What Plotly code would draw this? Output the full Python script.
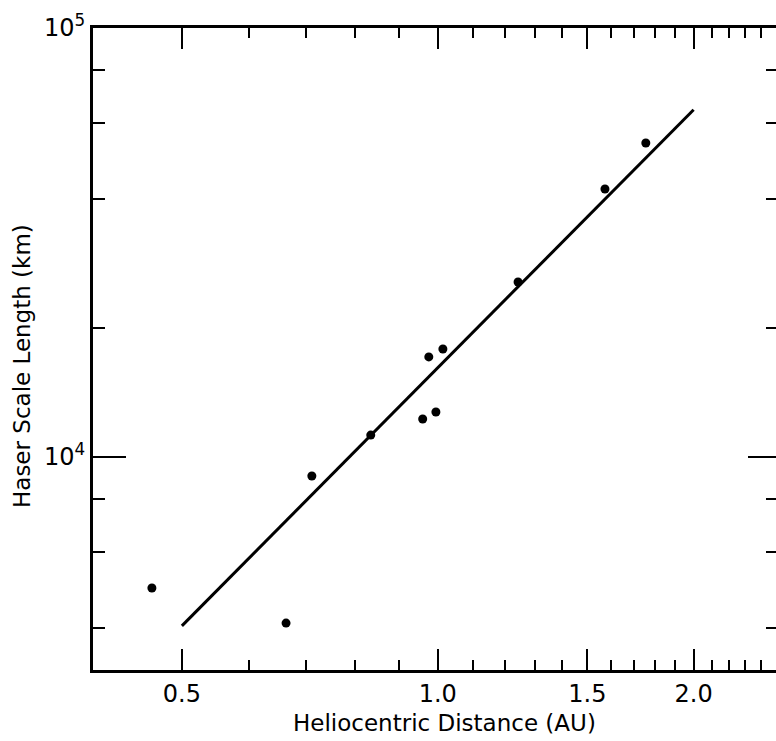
import math
import plotly.graph_objects as go

# Data
helio_dist_au = [0.461, 0.663, 0.711, 0.834, 0.960, 0.995, 0.976, 1.014, 1.243, 1.573, 1.757]
scale_length_km = [4950, 4100, 9030, 11250, 12260, 12730, 17110, 17850, 25580, 42140, 53950]

fit_x = [0.5, 2.0]
fit_y = [4040, 64500]

x_tickvals = [0.5, 1.0, 1.5, 2.0]
x_ticktext = ["0.5", "1.0", "1.5", "2.0"]
x_minor = [0.6, 0.7, 0.8, 0.9, 1.1, 1.2, 1.3, 1.4, 1.6, 1.7, 1.8, 1.9, 2.1, 2.2, 2.3, 2.4]

y_tickvals = [1e4, 1e5]
y_ticktext = ["10<sup>4</sup>", "10<sup>5</sup>"]
y_minor = [4e3, 6e3, 8e3, 2e4, 4e4, 6e4, 8e4]

x_range = [0.393, 2.5]
y_range = [3188, 1e5]

FONT = "DejaVu Sans"

fig = go.Figure()
fig.add_trace(go.Scatter(x=fit_x, y=fit_y, mode="lines",
                         line=dict(color="black", width=3),
                         showlegend=False, hoverinfo="skip"))
fig.add_trace(go.Scatter(x=helio_dist_au, y=scale_length_km, mode="markers",
                         marker=dict(color="black", size=9),
                         showlegend=False, hoverinfo="skip"))
# invisible trace to anchor the right-hand tick axis
fig.add_trace(go.Scatter(x=fit_x, y=fit_y, yaxis="y2", mode="lines",
                         line=dict(width=0, color="rgba(0,0,0,0)"),
                         showlegend=False, hoverinfo="skip"))

fig.update_layout(
    width=776, height=741,
    margin=dict(l=93, r=0, t=28, b=71),
    paper_bgcolor="white", plot_bgcolor="white",
    font=dict(family=FONT, color="black"),
    hovermode=False,
    xaxis=dict(
        type="log", range=[math.log10(x_range[0]), math.log10(x_range[1])],
        tickmode="array", tickvals=x_tickvals, ticktext=x_ticktext,
        ticks="inside", ticklen=21, tickwidth=2, tickcolor="black",
        showline=True, linecolor="black", linewidth=3, mirror="ticks",
        showgrid=False, zeroline=False,
        tickfont=dict(size=24, family=FONT, color="black"),
        minor=dict(tickmode="array", tickvals=x_minor, ticks="inside",
                   ticklen=10, tickwidth=2, tickcolor="black", showgrid=False),
    ),
    yaxis=dict(
        type="log", range=[math.log10(y_range[0]), math.log10(y_range[1])],
        tickmode="array", tickvals=y_tickvals, ticktext=y_ticktext,
        ticks="inside", ticklen=33, tickwidth=2, tickcolor="black",
        showline=True, linecolor="black", linewidth=3, mirror=False,
        showgrid=False, zeroline=False,
        tickfont=dict(size=24, family=FONT, color="black"),
        minor=dict(tickmode="array", tickvals=y_minor, ticks="inside",
                   ticklen=12, tickwidth=2, tickcolor="black", showgrid=False),
    ),
    yaxis2=dict(
        type="log", range=[math.log10(y_range[0]), math.log10(y_range[1])],
        overlaying="y", side="right",
        tickmode="array", tickvals=[1e4],
        ticks="inside", ticklen=28, tickwidth=2, tickcolor="black",
        showline=False, showgrid=False, zeroline=False, showticklabels=False,
        minor=dict(tickmode="array", tickvals=y_minor, ticks="inside",
                   ticklen=10, tickwidth=2, tickcolor="black", showgrid=False),
    ),
    annotations=[
        dict(text="Heliocentric Distance (AU)", xref="paper", yref="paper",
             x=(444 - 93) / 683, y=-(723 - 670) / 642, xanchor="center", yanchor="middle",
             showarrow=False, font=dict(size=23, family=FONT, color="black")),
        dict(text="Haser Scale Length (km)", xref="paper", yref="paper",
             x=-(93 - 22) / 683, y=(670 - 366) / 642, xanchor="center", yanchor="middle",
             textangle=-90, showarrow=False,
             font=dict(size=23, family=FONT, color="black")),
    ],
)

fig.write_html("out.html")
